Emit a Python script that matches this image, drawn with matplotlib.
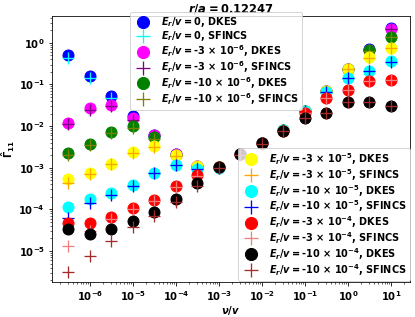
import numpy as np
import matplotlib
matplotlib.use('Agg')
import matplotlib.pyplot as plt

plt.rcParams['font.weight'] = 'bold'
plt.rcParams['axes.labelweight'] = 'bold'
plt.rcParams['mathtext.fontset'] = 'custom'
plt.rcParams['mathtext.rm'] = 'DejaVu Sans:bold'
plt.rcParams['mathtext.it'] = 'DejaVu Sans:italic:bold'
plt.rcParams['mathtext.bf'] = 'DejaVu Sans:bold'

nu = [3e-7, 1e-6, 3e-6, 1e-5, 3e-5, 1e-4, 3e-4, 1e-3, 3e-3, 1e-2, 3e-2, 1e-1, 3e-1, 1, 3, 10]

er0_dkes = [0.52, 0.16, 0.053, 0.017, 6.2e-3, 2.1e-3, 1.07e-3, 1.05e-3, 2.1e-3, 3.9e-3, 8.0e-3, 0.023, 0.07, 0.23, 0.72, 2.3]
er0_sfincs = [0.42, 0.14, 0.047, 0.015, 5.8e-3, 2.0e-3, 1.05e-3, 1.05e-3, 2.1e-3, 3.9e-3, 8.0e-3, 0.023, 0.07, 0.23, 0.70, 2.2]
er3e6_dkes = [0.012, 0.027, 0.032, 0.0155, 6.1e-3, 2.1e-3, 1.07e-3, 1.05e-3, 2.1e-3, 3.9e-3, 8.0e-3, 0.023, 0.07, 0.23, 0.69, 2.2]
er3e6_sfincs = [0.011, 0.025, 0.031, 0.014, 5.8e-3, 2.0e-3, 1.05e-3, 1.05e-3, 2.1e-3, 3.9e-3, 8.0e-3, 0.023, 0.07, 0.23, 0.68, 2.15]
er10e6_dkes = [2.2e-3, 3.7e-3, 7.2e-3, 0.010, 5.4e-3, 2.0e-3, 1.05e-3, 1.05e-3, 2.1e-3, 3.9e-3, 8.0e-3, 0.023, 0.07, 0.23, 0.66, 1.4]
er10e6_sfincs = [2.0e-3, 3.5e-3, 7.0e-3, 0.0092, 5.0e-3, 1.95e-3, 1.03e-3, 1.05e-3, 2.1e-3, 3.9e-3, 8.0e-3, 0.023, 0.07, 0.23, 0.65, 1.4]
er3e5_dkes = [5.4e-4, 7.6e-4, 1.23e-3, 2.4e-3, 3.3e-3, 2.0e-3, 1.1e-3, 1.05e-3, 2.1e-3, 3.9e-3, 8.0e-3, 0.023, 0.07, 0.23, 0.45, 0.74]
er3e5_sfincs = [4.3e-4, 7.2e-4, 1.2e-3, 2.3e-3, 3.2e-3, 1.9e-3, 1.05e-3, 1.05e-3, 2.1e-3, 3.9e-3, 8.0e-3, 0.023, 0.07, 0.23, 0.44, 0.73]
er10e5_dkes = [1.15e-4, 1.8e-4, 2.5e-4, 3.9e-4, 7.6e-4, 1.17e-3, 9.5e-4, 1.0e-3, 2.1e-3, 3.9e-3, 8.0e-3, 0.023, 0.066, 0.14, 0.21, 0.36]
er10e5_sfincs = [6.3e-5, 1.45e-4, 2.2e-4, 3.6e-4, 7.4e-4, 1.15e-3, 9.3e-4, 1.0e-3, 2.1e-3, 3.9e-3, 8.0e-3, 0.023, 0.065, 0.14, 0.21, 0.35]
er3e4_dkes = [4.6e-5, 4.7e-5, 6.6e-5, 1.1e-4, 1.7e-4, 3.7e-4, 6.8e-4, 1.02e-3, 2.1e-3, 3.9e-3, 7.8e-3, 0.021, 0.047, 0.073, 0.12, 0.126]
er3e4_sfincs = [1.3e-5, 3.0e-5, 6.0e-5, 1.0e-4, 1.6e-4, 3.5e-4, 6.5e-4, 1.0e-3, 2.1e-3, 3.9e-3, 7.7e-3, 0.021, 0.046, 0.072, 0.12, 0.125]
er10e4_dkes = [3.3e-5, 2.5e-5, 3.3e-5, 5.3e-5, 8.7e-5, 1.8e-4, 4.2e-4, 1.05e-3, 2.1e-3, 3.9e-3, 7.6e-3, 0.016, 0.021, 0.037, 0.037, 0.030]
er10e4_sfincs = [3.2e-6, 7.4e-6, 1.7e-5, 3.8e-5, 7.0e-5, 1.5e-4, 3.6e-4, 1.0e-3, 2.0e-3, 3.8e-3, 7.5e-3, 0.016, 0.021, 0.037, 0.037, 0.030]

series = [
    (er0_dkes, 'o', 'blue', r'$E_r/v = 0$, DKES'),
    (er0_sfincs, '+', 'cyan', r'$E_r/v = 0$, SFINCS'),
    (er3e6_dkes, 'o', 'magenta', r'$E_r/v = $-3 $\times$ $10^{-6}$, DKES'),
    (er3e6_sfincs, '+', 'purple', r'$E_r/v = $-3 $\times$ $10^{-6}$, SFINCS'),
    (er10e6_dkes, 'o', 'green', r'$E_r/v = $-10 $\times$ $10^{-6}$, DKES'),
    (er10e6_sfincs, '+', 'olive', r'$E_r/v = $-10 $\times$ $10^{-6}$, SFINCS'),
    (er3e5_dkes, 'o', 'yellow', r'$E_r/v = $-3 $\times$ $10^{-5}$, DKES'),
    (er3e5_sfincs, '+', 'orange', r'$E_r/v = $-3 $\times$ $10^{-5}$, SFINCS'),
    (er10e5_dkes, 'o', 'cyan', r'$E_r/v = $-10 $\times$ $10^{-5}$, DKES'),
    (er10e5_sfincs, '+', 'blue', r'$E_r/v = $-10 $\times$ $10^{-5}$, SFINCS'),
    (er3e4_dkes, 'o', 'red', r'$E_r/v = $-3 $\times$ $10^{-4}$, DKES'),
    (er3e4_sfincs, '+', 'lightcoral', r'$E_r/v = $-3 $\times$ $10^{-4}$, SFINCS'),
    (er10e4_dkes, 'o', 'black', r'$E_r/v = $-10 $\times$ $10^{-4}$, DKES'),
    (er10e4_sfincs, '+', 'brown', r'$E_r/v = $-10 $\times$ $10^{-4}$, SFINCS'),
]

# 72 dpi so that points == pixels
fig = plt.figure(figsize=(415 / 72, 317 / 72), dpi=72)
ax = fig.add_axes([0.1253, 0.1104, 0.8627, 0.8391])

handles = []
for vals, mk, col, lab in series:
    if mk == 'o':
        h, = ax.plot(nu, vals, 'o', color=col, markersize=11, linestyle='none', label=lab)
    else:
        h, = ax.plot(nu, vals, '+', color=col, markersize=12, markeredgewidth=1.3, linestyle='none', label=lab)
    handles.append(h)

ax.set_xscale('log')
ax.set_yscale('log')
ax.set_xlim(1.3e-7, 27)
ax.set_ylim(1.8e-6, 4.4)
ax.set_xlabel(r'$\nu/v$', fontsize=10, labelpad=1)
ax.set_ylabel(r'$\hat{\Gamma}_{11}$', fontsize=10, labelpad=1)
ax.set_title(r'$r/a = 0.12247$', fontsize=11.5, pad=3)
ax.tick_params(labelsize=10)

leg_kw = dict(fontsize=9.8, borderpad=0.35, labelspacing=0.0, handletextpad=0.8,
              handlelength=2.0, borderaxespad=0, markerscale=1.1)
leg1 = ax.legend(handles=handles[:6], loc='upper left', bbox_to_anchor=(0.218, 1.015), **leg_kw)
ax.add_artist(leg1)
ax.legend(handles=handles[6:], loc='lower right', bbox_to_anchor=(1.0, 0.004), **leg_kw)

fig.savefig('out.png', dpi=72)
